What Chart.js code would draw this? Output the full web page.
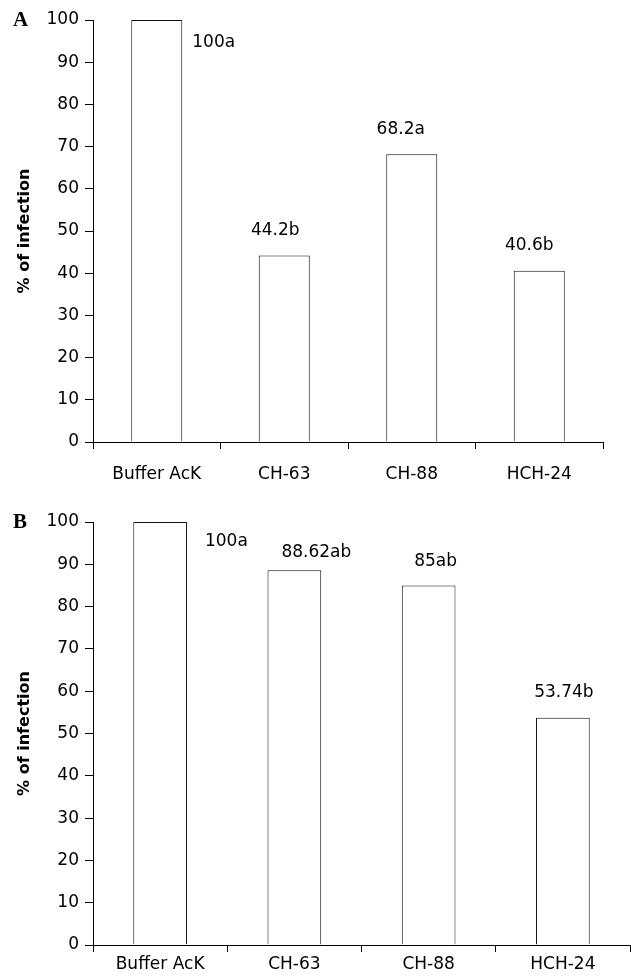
<!DOCTYPE html>
<html lang="en">
<head>
    <meta charset="UTF-8">
    <title>% of infection</title>
    <script src="https://cdn.jsdelivr.net/npm/chart.js"></script>
    <style>
        body { margin: 0; background: #fff; }
        .panel { position: absolute; left: 0; width: 631px; }
        #panelA { top: 0; height: 490px; }
        #panelB { top: 490px; height: 487px; }
    </style>
</head>
<body>
    <div class="panel" id="panelA"><canvas id="chartA"></canvas></div>
    <div class="panel" id="panelB"><canvas id="chartB"></canvas></div>

    <script>
        const categories = ['Buffer AcK', 'CH-63', 'CH-88', 'HCH-24'];
        const valuesA = [100, 44.2, 68.2, 40.6];
        const valuesB = [100, 88.62, 85, 53.74];
        const valueLabelsA = ['100a', '44.2b', '68.2a', '40.6b'];
        const valueLabelsB = ['100a', '88.62ab', '85ab', '53.74b'];
        const yTicks = [0, 10, 20, 30, 40, 50, 60, 70, 80, 90, 100];

        const FONT = '"DejaVu Sans", sans-serif';

        // draws the letter labels next to the bars, plus the panel letter
        const barText = {
            id: 'barText',
            afterDatasetsDraw(chart, args, opts) {
                const ctx = chart.ctx;
                const bars = chart.getDatasetMeta(0).data;
                ctx.save();
                ctx.fillStyle = '#000';
                ctx.font = '17px ' + FONT;
                ctx.textBaseline = 'middle';
                bars.forEach((bar, i) => {
                    const txt = opts.texts[i];
                    if (i === 0) {
                        ctx.textAlign = 'left';
                        ctx.fillText(txt, bar.x + bar.width / 2 + opts.firstGap, bar.y + opts.firstDrop);
                    } else {
                        ctx.textAlign = 'center';
                        ctx.fillText(txt, bar.x + opts.dx[i], bar.y - opts.rise[i]);
                    }
                });
                ctx.font = 'bold 21px "Liberation Serif", serif';
                ctx.textAlign = 'left';
                ctx.fillText(opts.letter, 13, chart.chartArea.top + 1);
                ctx.restore();
            }
        };

        const makeChart = (id, values, texts, extra) => {
            new Chart(document.getElementById(id), {
                type: 'bar',
                data: {
                    labels: categories,
                    datasets: [{
                        data: values,
                        backgroundColor: '#fff',
                        borderColor: '#111',
                        borderWidth: 1,
                        categoryPercentage: 1,
                        barPercentage: 0.4,
                    }],
                },
                options: {
                    responsive: true,
                    maintainAspectRatio: false,
                    animation: false,
                    layout: { padding: extra.padding },
                    plugins: {
                        legend: { display: false },
                        tooltip: { enabled: false },
                        barText: {
                            texts: texts,
                            letter: extra.letter,
                            firstGap: extra.firstGap,
                            firstDrop: extra.firstDrop,
                            dx: extra.dx,
                            rise: extra.rise,
                        },
                    },
                    scales: {
                        x: {
                            afterFit: (s) => { s.height = extra.xHeight; },
                            grid: { offset: true, drawOnChartArea: false, drawTicks: true, tickLength: 7, color: '#000' },
                            border: { display: true, color: '#000' },
                            ticks: { color: '#000', font: { family: FONT, size: 17 }, padding: extra.xPad, maxRotation: 0 },
                        },
                        y: {
                            min: 0,
                            max: 100,
                            afterFit: (s) => { s.width = 93; },
                            afterBuildTicks: (s) => { s.ticks = yTicks.map(v => ({ value: v })); },
                            grid: { drawOnChartArea: false, drawTicks: true, tickLength: 8, color: '#000' },
                            border: { display: true, color: '#000' },
                            ticks: { color: '#000', font: { family: FONT, size: 17 }, padding: 6 },
                            title: {
                                display: true,
                                text: '% of infection',
                                color: '#000',
                                font: { family: FONT, size: 16, weight: 'bold' },
                                padding: { top: 15, bottom: 0 },
                            },
                        },
                    },
                },
                plugins: [barText],
            });
        };

        makeChart('chartA', valuesA, valueLabelsA, {
            letter: 'A',
            padding: { top: 20, right: 28, bottom: 0, left: 0 },
            xHeight: 48,
            xPad: 15,
            firstGap: 10,
            firstDrop: 23,
            dx: [0, -9, -11, -10],
            rise: [0, 25, 25, 25],
        });

        makeChart('chartB', valuesB, valueLabelsB, {
            letter: 'B',
            padding: { top: 32, right: 1, bottom: 0, left: 0 },
            xHeight: 32,
            xPad: 2,
            firstGap: 18,
            firstDrop: 20,
            dx: [0, 22, 7, 1],
            rise: [0, 18, 24, 25],
        });
    </script>
</body>
</html>
